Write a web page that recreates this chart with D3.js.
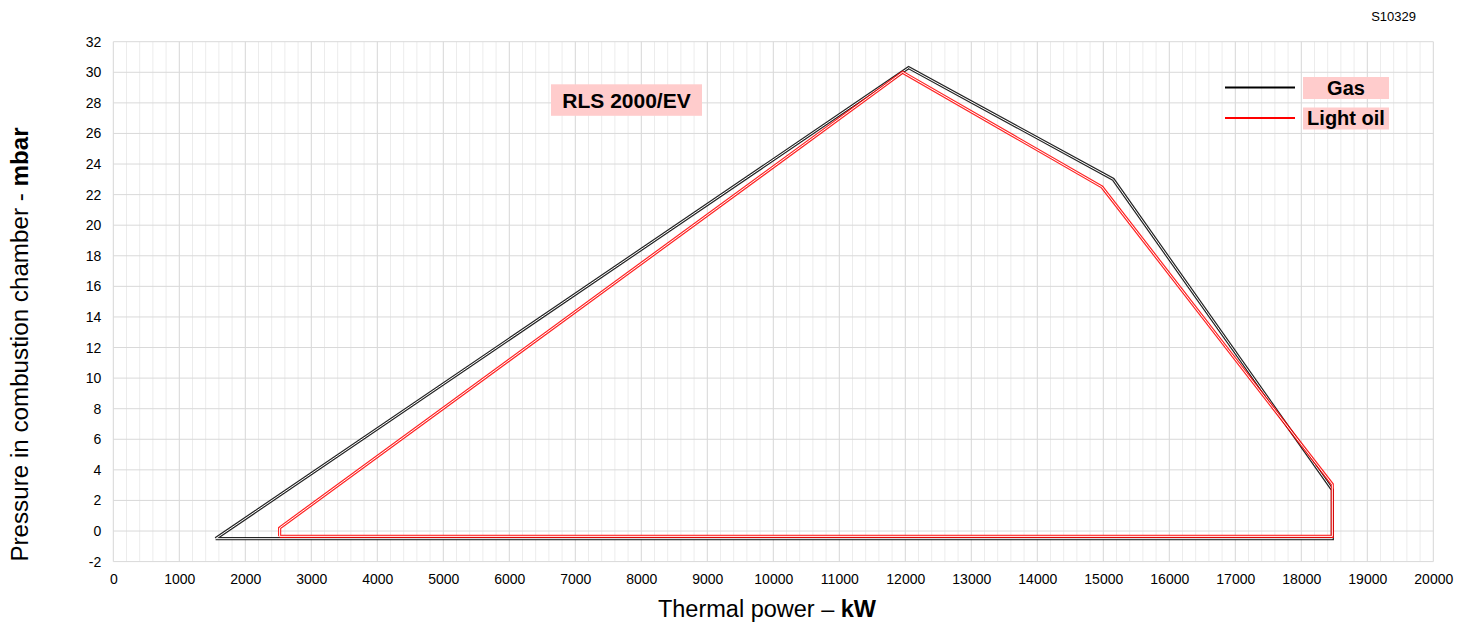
<!DOCTYPE html>
<html><head><meta charset="utf-8">
<script src="https://cdn.jsdelivr.net/npm/d3@7"></script>
<style>body{margin:0;background:#fff;} svg{display:block;font-family:"Liberation Sans",Arial,sans-serif;}</style>
</head><body>
<svg id="c" width="1465" height="625"></svg>
<script>
const xTicks = [0,1000,2000,3000,4000,5000,6000,7000,8000,9000,10000,11000,12000,13000,14000,15000,16000,17000,18000,19000,20000];
const yTicks = [-2,0,2,4,6,8,10,12,14,16,18,20,22,24,26,28,30,32];
const gasX = [1550, 12050, 15150, 18470, 18470, 1550];
const gasY = [-0.5, 30.3, 23.0, 2.7, -0.5, -0.5];
const oilX = [2520, 2520, 11960, 14980, 18470, 18470, 2520];
const oilY = [-0.35, 0.2, 30.0, 22.5, 3.05, -0.35, -0.35];
const seriesNames = ["Gas", "Light oil"];
const seriesColors = ["#000000", "#ff0000"];
const chartTitle = "RLS 2000/EV";
const code = "S10329";

const svg = d3.select("#c");
const L = 113.3, R = 1433.3, T = 41.7, B = 561.6;
const x = d3.scaleLinear().domain([0,20000]).range([L,R]);
const y = d3.scaleLinear().domain([-2,32]).range([B,T]);

// minor vertical grid
const minor = d3.range(0,20001,200).filter(v=>v%1000!==0);
svg.append("g").selectAll("line").data(minor).join("line")
  .attr("x1",d=>x(d)).attr("x2",d=>x(d)).attr("y1",T).attr("y2",B)
  .attr("stroke","#ececec").attr("stroke-width",1);
// major vertical grid
svg.append("g").selectAll("line").data(xTicks).join("line")
  .attr("x1",d=>x(d)).attr("x2",d=>x(d)).attr("y1",T).attr("y2",B)
  .attr("stroke","#d6d6d6").attr("stroke-width",1);
// horizontal grid
svg.append("g").selectAll("line").data(yTicks).join("line")
  .attr("x1",L).attr("x2",R).attr("y1",d=>y(d)).attr("y2",d=>y(d))
  .attr("stroke","#d9d9d9").attr("stroke-width",1);

// axes
const xa = svg.append("g").attr("transform",`translate(0,${B})`)
  .call(d3.axisBottom(x).tickValues(xTicks).tickSize(0).tickPadding(12.5).tickFormat(d=>String(d)));
xa.select(".domain").remove();
xa.selectAll("text").attr("font-size",14).attr("fill","#000").attr("font-family","Liberation Sans, Arial, sans-serif");
const ya = svg.append("g").attr("transform",`translate(${L},0)`)
  .call(d3.axisLeft(y).tickValues(yTicks).tickSize(0).tickPadding(12).tickFormat(d=>String(d)));
ya.select(".domain").remove();
ya.selectAll("text").attr("font-size",14).attr("fill","#000").attr("font-family","Liberation Sans, Arial, sans-serif");

// series (double-line style)
const line = d3.line().x(d=>x(d[0])).y(d=>y(d[1]));
const series = [d3.zip(gasX,gasY), d3.zip(oilX,oilY)];
series.forEach((pts,i)=>{
  svg.append("path").attr("d",line(pts)).attr("fill","none")
    .attr("stroke",seriesColors[i]).attr("stroke-width",3.2).attr("stroke-linejoin","miter").attr("opacity",0.85);
  svg.append("path").attr("d",line(pts)).attr("fill","none")
    .attr("stroke","#fff").attr("stroke-width",1).attr("stroke-linejoin","miter");
});

// title box
svg.append("rect").attr("x",551).attr("y",84.3).attr("width",151).attr("height",31.5).attr("fill","#ffcccc");
svg.append("text").attr("x",626.5).attr("y",107.5).attr("text-anchor","middle")
  .attr("font-size",21).attr("font-weight","bold").text(chartTitle);

// legend
const legY = [87.5, 118];
seriesNames.forEach((n,i)=>{
  svg.append("line").attr("x1",1225).attr("x2",1295).attr("y1",legY[i]).attr("y2",legY[i])
    .attr("stroke",seriesColors[i]).attr("stroke-width",2.2);
  svg.append("rect").attr("x",1303).attr("y",legY[i]-10.5).attr("width",86).attr("height",22).attr("fill","#ffcccc");
  svg.append("text").attr("x",1346).attr("y",legY[i]+7).attr("text-anchor","middle")
    .attr("font-size",20).attr("font-weight","bold").text(n);
});

// code
svg.append("text").attr("x",1416).attr("y",21).attr("text-anchor","end").attr("font-size",13).text(code);

// axis titles
const xt = svg.append("text").attr("x",767).attr("y",617).attr("text-anchor","middle").attr("font-size",23.5);
xt.append("tspan").text("Thermal power – ");
xt.append("tspan").attr("font-weight","bold").text("kW");
const yt = svg.append("text").attr("transform","translate(28,344.5) rotate(-90)").attr("text-anchor","middle").attr("font-size",24.2);
yt.append("tspan").text("Pressure in combustion chamber - ");
yt.append("tspan").attr("font-weight","bold").text("mbar");
</script>
</body></html>
